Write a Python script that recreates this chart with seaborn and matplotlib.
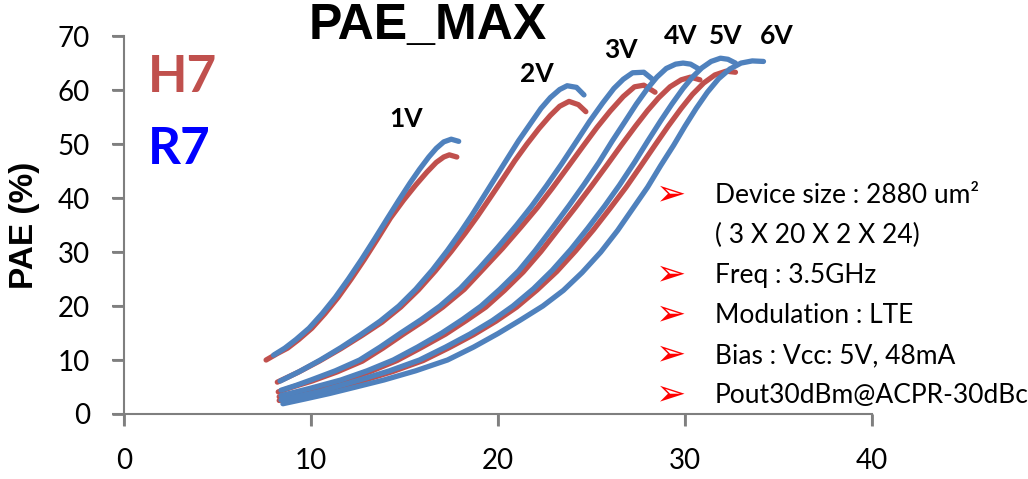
import numpy as np
import pandas as pd
import matplotlib
matplotlib.use("Agg")
import matplotlib.pyplot as plt
from matplotlib.lines import Line2D
import seaborn as sns

# Pout (dBm) vs PAE (%) for each collector voltage
voltages = ["1V", "2V", "3V", "4V", "5V", "6V"]

# H7 (red)
h7_1v_x = [7.6, 8.2, 8.75, 9.35, 10.05, 10.75, 11.45, 12.15, 12.85, 13.55, 14.25, 14.95,
           15.6, 16.2, 16.7, 17.1, 17.4, 17.8]
h7_1v_y = [10.0, 11.2, 12.2, 13.8, 15.9, 18.6, 21.6, 25.0, 28.6, 32.4, 36.3, 39.6,
           42.4, 44.8, 46.6, 47.6, 48.0, 47.6]
h7_2v_x = [8.2, 9.3, 10.45, 11.6, 12.75, 13.8, 14.8, 15.75, 16.65, 17.5, 18.25, 18.9,
           19.55, 20.25, 20.9, 21.55, 22.2, 22.8, 23.3, 23.8, 24.3, 24.7]
h7_2v_y = [5.9, 7.7, 9.8, 12.1, 14.6, 17.0, 19.8, 23.0, 26.5, 30.1, 33.5, 36.6,
           39.9, 43.5, 46.9, 50.0, 52.9, 55.3, 57.0, 57.9, 57.3, 56.0]
h7_3v_x = [8.25, 9.1, 10.05, 11.4, 12.75, 13.85, 14.95, 16.05, 17.05, 18.2, 19.2, 20.25,
           21.25, 22.1, 22.9, 23.75, 24.55, 25.3, 26.0, 26.7, 27.3, 27.8, 28.4]
h7_3v_y = [4.1, 5.1, 6.1, 7.8, 9.8, 12.2, 14.8, 17.3, 19.8, 23.1, 26.8, 30.7,
           34.7, 38.2, 41.8, 45.8, 49.6, 53.1, 56.1, 58.8, 60.6, 60.9, 59.6]
h7_4v_x = [8.3, 10.1, 11.8, 13.2, 14.6, 15.9, 17.2, 18.3, 19.35, 20.35, 21.35, 22.3,
           23.2, 24.15, 25.0, 25.85, 26.6, 27.35, 28.0, 28.6, 29.2, 29.8, 30.3, 30.8]
h7_4v_y = [3.2, 4.6, 6.2, 7.9, 9.9, 12.3, 14.8, 17.3, 19.8, 22.9, 26.3, 30.1,
           34.1, 38.3, 42.2, 46.2, 49.8, 53.3, 56.2, 58.6, 60.6, 61.9, 62.4, 61.9]
h7_5v_x = [8.3, 10.6, 12.8, 14.4, 16.0, 17.4, 18.7, 19.9, 21.0, 22.1, 23.15, 24.15,
           25.1, 26.0, 26.85, 27.65, 28.4, 29.1, 29.8, 30.4, 31.0, 31.6, 32.2, 32.7]
h7_5v_y = [2.5, 4.1, 6.2, 7.9, 9.9, 12.3, 14.7, 17.2, 19.8, 23.0, 26.4, 30.2,
           34.1, 38.1, 42.0, 46.0, 49.8, 53.3, 56.6, 59.2, 61.3, 62.8, 63.5, 63.3]

# R7 (blue)
r7_1v_x = [8.0, 8.6, 9.2, 9.9, 10.6, 11.3, 12.0, 12.7, 13.4, 14.1, 14.7, 15.3,
           15.8, 16.3, 16.7, 17.1, 17.5, 17.9]
r7_1v_y = [10.9, 12.2, 13.8, 15.9, 18.6, 21.6, 25.0, 28.6, 32.4, 36.3, 39.6, 42.8,
           45.3, 47.6, 49.2, 50.4, 50.9, 50.5]
r7_2v_x = [8.35, 9.4, 10.5, 11.6, 12.7, 13.7, 14.7, 15.6, 16.5, 17.3, 18.0, 18.6,
           19.2, 19.85, 20.5, 21.1, 21.7, 22.3, 22.8, 23.3, 23.7, 24.2, 24.6]
r7_2v_y = [6.1, 7.9, 10.0, 12.3, 14.8, 17.2, 20.0, 23.1, 26.7, 30.3, 33.7, 36.8,
           40.1, 43.7, 47.3, 50.6, 53.6, 56.6, 58.6, 60.1, 60.8, 60.5, 59.1]
r7_3v_x = [8.4, 9.2, 10.0, 11.3, 12.6, 13.7, 14.8, 15.9, 16.9, 18.0, 19.0, 20.0,
           21.0, 21.8, 22.6, 23.4, 24.2, 24.9, 25.6, 26.2, 26.7, 27.2, 27.8, 28.3]
r7_3v_y = [4.4, 5.3, 6.3, 8.0, 10.0, 12.4, 15.0, 17.5, 20.0, 23.3, 27.0, 30.9,
           35.0, 38.5, 42.3, 46.3, 50.5, 54.2, 57.6, 60.3, 62.0, 63.2, 63.3, 61.9]
r7_4v_x = [8.4, 10.0, 11.6, 13.0, 14.4, 15.7, 17.0, 18.1, 19.1, 20.1, 21.1, 22.0,
           22.9, 23.8, 24.6, 25.4, 26.1, 26.8, 27.4, 28.0, 28.5, 29.0, 29.5, 29.9,
           30.3, 30.7]
r7_4v_y = [3.4, 4.8, 6.3, 8.0, 10.0, 12.4, 15.0, 17.5, 20.0, 23.1, 26.5, 30.3,
           34.4, 38.6, 42.5, 46.6, 50.5, 54.2, 57.4, 60.3, 62.4, 64.0, 64.8, 65.0,
           64.8, 64.0]
r7_5v_x = [8.4, 10.5, 12.6, 14.2, 15.8, 17.2, 18.5, 19.7, 20.8, 21.9, 22.9, 23.9,
           24.8, 25.7, 26.5, 27.3, 28.0, 28.7, 29.3, 29.9, 30.4, 30.9, 31.4, 31.9,
           32.3, 32.7]
r7_5v_y = [2.6, 4.2, 6.3, 8.0, 10.0, 12.4, 14.8, 17.3, 20.0, 23.2, 26.6, 30.5,
           34.4, 38.5, 42.4, 46.6, 50.5, 54.3, 57.4, 60.3, 62.4, 64.1, 65.3, 65.9,
           65.7, 65.0]
r7_6v_x = [8.5, 9.7, 11.0, 12.4, 13.9, 15.6, 17.3, 18.7, 20.0, 21.2, 22.4, 23.5,
           24.5, 25.5, 26.4, 27.2, 28.0, 28.7, 29.4, 30.0, 30.6, 31.2, 31.8, 32.4,
           33.0, 33.6, 34.2]
r7_6v_y = [1.9, 2.8, 3.8, 5.0, 6.3, 8.0, 10.0, 12.4, 14.9, 17.4, 20.0, 22.9,
           26.2, 30.0, 34.0, 38.0, 42.0, 46.0, 49.8, 53.3, 56.6, 59.6, 62.1, 63.9,
           65.0, 65.4, 65.3]

h7_curves = [(h7_1v_x, h7_1v_y), (h7_2v_x, h7_2v_y), (h7_3v_x, h7_3v_y),
             (h7_4v_x, h7_4v_y), (h7_5v_x, h7_5v_y)]
r7_curves = [(r7_1v_x, r7_1v_y), (r7_2v_x, r7_2v_y), (r7_3v_x, r7_3v_y),
             (r7_4v_x, r7_4v_y), (r7_5v_x, r7_5v_y), (r7_6v_x, r7_6v_y)]

# label positions above each curve family
label_x = [15.1, 22.1, 26.6, 29.8, 32.2, 34.9]
label_y = [54.6, 63.0, 67.4, 70.0, 70.0, 70.0]

notes = ["Device size : 2880 um\u00b2", "( 3 X 20 X 2 X 24)", "Freq : 3.5GHz",
         "Modulation : LTE", "Bias : Vcc: 5V, 48mA", "Pout30dBm@ACPR-30dBc"]
note_bullet = [True, False, True, True, True, True]

RED = "#C0504D"
BLUE = "#4F81BD"
GREY = "#7F7F7F"

sns.set_style("ticks", {
    "xtick.bottom": True, "ytick.left": True,
    "xtick.direction": "out", "ytick.direction": "out",
    "xtick.color": GREY, "ytick.color": GREY,
})
plt.rcParams["font.family"] = ["Lato", "DejaVu Sans"]
plt.rcParams["text.color"] = "black"

fig = plt.figure(figsize=(10.28, 4.79), dpi=100)
ax = fig.add_axes([0.1206, 0.1357, 0.7276, 0.789])

for xs, ys in h7_curves:
    df = pd.DataFrame({"pout": xs, "pae": ys})
    sns.lineplot(data=df, x="pout", y="pae", color=RED, linewidth=3.8,
                 sort=False, estimator=None, ax=ax, solid_capstyle="round",
                 solid_joinstyle="round")
for xs, ys in r7_curves:
    df = pd.DataFrame({"pout": xs, "pae": ys})
    sns.lineplot(data=df, x="pout", y="pae", color=BLUE, linewidth=3.8,
                 sort=False, estimator=None, ax=ax, solid_capstyle="round",
                 solid_joinstyle="round")

ax.set_xlim(0, 40)
ax.set_ylim(0, 70)
ax.set_xticks([0, 10, 20, 30, 40])
ax.set_yticks(np.arange(0, 71, 10))
for side in ["top", "right"]:
    ax.spines[side].set_visible(False)
for side in ["left", "bottom"]:
    ax.spines[side].set_color(GREY)
    ax.spines[side].set_linewidth(1.5)
ax.tick_params(axis="both", which="major", bottom=True, left=True,
               direction="out", length=8.6, width=1.5, color=GREY,
               pad=16, labelsize=20, labelcolor="black")

ax.set_xlabel("")
ax.set_ylabel("PAE (%)", fontsize=24, fontweight="bold", color="black",
              family=["Liberation Sans", "DejaVu Sans"])
ax.yaxis.set_label_coords(-0.112, 0.5)

for lab, lx, ly in zip(voltages, label_x, label_y):
    ax.text(lx, ly, lab, fontsize=19, fontweight="bold", ha="center",
            va="center", color="black", clip_on=False)

fig.text(428 / 1028, 1 - 26 / 479, "PAE_MAX", fontsize=36, fontweight="bold",
         ha="center", va="center", color="black",
         family=["Liberation Sans", "DejaVu Sans"])
fig.text(148 / 1028, 1 - 78 / 479, "H7", fontsize=37, fontweight="bold",
         color=RED, ha="left", va="center")
fig.text(148 / 1028, 1 - 150 / 479, "R7", fontsize=37, fontweight="bold",
         color="#0000FF", ha="left", va="center")

base_px = 203
for i, (txt, bullet) in enumerate(zip(notes, note_bullet)):
    yb = base_px + i * 40
    fig.text(715 / 1028, 1 - yb / 479, txt, fontsize=19, ha="left",
             va="baseline", color="black")
    if bullet:
        fig.text(671 / 1028, 1 - (yb - 9) / 479, "\u27a2", fontsize=26,
                 color="#FF0000", ha="center", va="center",
                 family=["DejaVu Sans"])

# outward tick marks at the axis' own tick positions, added on the figure
# level on top of everything else
xt_len = 12 / (0.789 * 479)
yt_len = 12 / (0.7276 * 1028)
for v in ax.get_xticks():
    fig.add_artist(Line2D([v, v], [0, -xt_len], transform=ax.get_xaxis_transform(),
                          color=GREY, linewidth=2.0, zorder=20,
                          solid_capstyle="butt"))
for v in ax.get_yticks():
    fig.add_artist(Line2D([0, -yt_len], [v, v], transform=ax.get_yaxis_transform(),
                          color=GREY, linewidth=2.0, zorder=20,
                          solid_capstyle="butt"))

fig.savefig("out.png", dpi=100)
